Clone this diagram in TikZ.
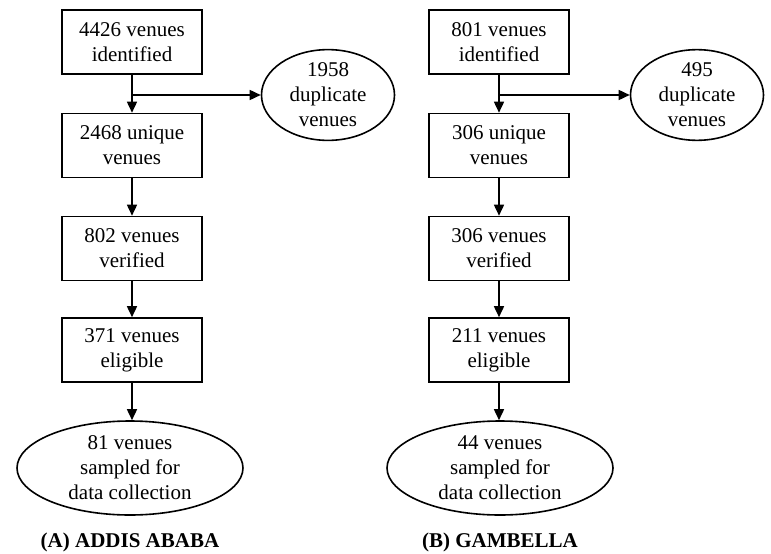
\documentclass[tikz,border=0pt]{standalone}
\usepackage{fontspec}
\setmainfont{Liberation Serif}
\usetikzlibrary{shapes.geometric,arrows.meta}
\begin{document}
\begin{tikzpicture}[x=1pt,y=-1pt,
  every node/.style={font=\fontsize{21}{25}\selectfont, align=center, inner sep=0pt},
  box/.style={draw, line width=1.6pt, rectangle, minimum width=140pt, minimum height=64pt},
  oval/.style={draw, line width=1.6pt, ellipse, minimum width=133pt, minimum height=85pt},
  bigoval/.style={draw, line width=1.6pt, ellipse, minimum width=226pt, minimum height=94pt},
  arr/.style={line width=1.6pt, -{Triangle[length=11pt,width=10pt]}},
  ttl/.style={font=\fontsize{21}{25}\selectfont\bfseries}]
\useasboundingbox (0,0) rectangle (771,554);
% Column A
\node[box] (a1) at (132,42) {4426 venues\\identified};
\node[box] (a2) at (132,145.5) {2468 unique\\venues};
\node[box] (a3) at (132,248.5) {802 venues\\verified};
\node[box] (a4) at (132,350) {371 venues\\eligible};
\node[bigoval] (a5) at (130,468) {81 venues\\sampled for\\data collection};
\node[oval] (ad) at (328,95) {1958\\duplicate\\venues};
\coordinate (ab) at (132,95);
\draw[arr] (a1) -- (a2);
\draw[arr] (ab) -- (ad.west);
\draw[arr] (a2) -- (a3);
\draw[arr] (a3) -- (a4);
\draw[arr] (a4) -- (a4.south |- a5.north);
\node[ttl] (ta) at (130,542) {(A) ADDIS ABABA};
% Column B
\node[box] (b1) at (499,42) {801 venues\\identified};
\node[box] (b2) at (499,145.5) {306 unique\\venues};
\node[box] (b3) at (499,248.5) {306 venues\\verified};
\node[box] (b4) at (499,350) {211 venues\\eligible};
\node[bigoval] (b5) at (500,468) {44 venues\\sampled for\\data collection};
\node[oval] (bd) at (697,95) {495\\duplicate\\venues};
\coordinate (bb) at (499,95);
\draw[arr] (b1) -- (b2);
\draw[arr] (bb) -- (bd.west);
\draw[arr] (b2) -- (b3);
\draw[arr] (b3) -- (b4);
\draw[arr] (b4) -- (b4.south |- b5.north);
\node[ttl] (tb) at (500,542) {(B) GAMBELLA};
\end{tikzpicture}
\end{document}
